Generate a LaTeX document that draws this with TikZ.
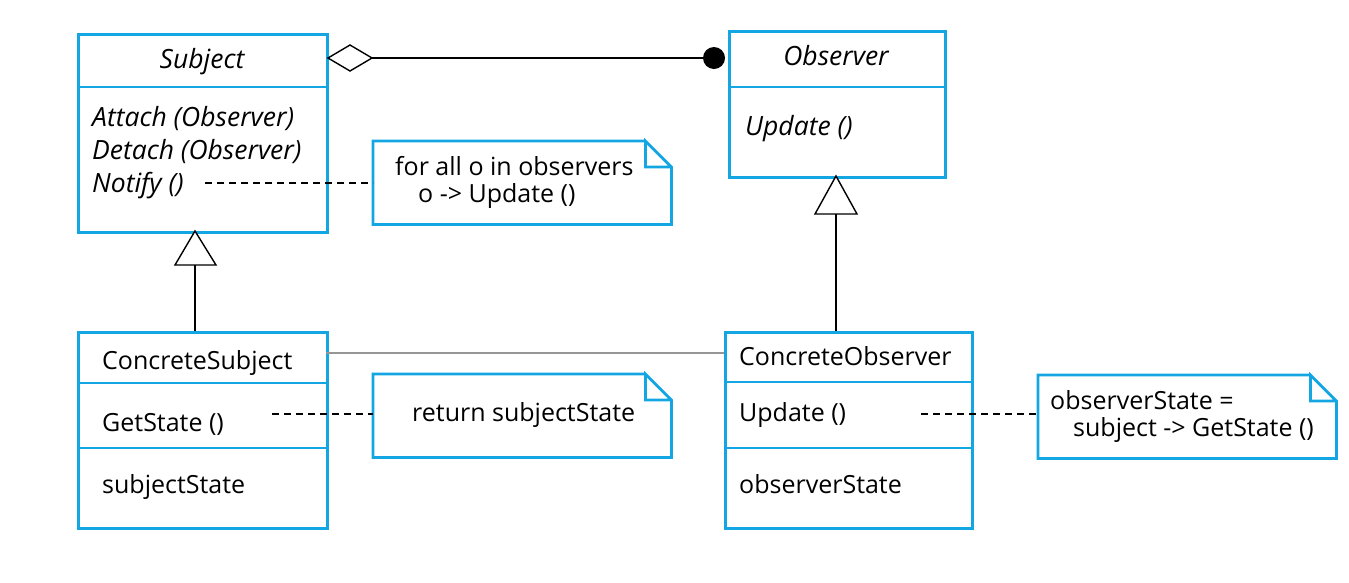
\documentclass[tikz,border=0pt]{standalone}
\usepackage{fontspec}
\setmainfont{Open Sans}
\definecolor{ublue}{RGB}{20,166,226}
\definecolor{assocgray}{RGB}{150,150,150}
\begin{document}
\begin{tikzpicture}[x=1pt,y=-1pt,
  box/.style={draw=ublue,line width=2.8pt,rectangle,inner sep=0pt,anchor=north west},
  divline/.style={draw=ublue,line width=1.3pt},
  txt/.style={inner sep=0pt,anchor=base west,font=\fontsize{25}{30}\selectfont},
  itxt/.style={txt,font=\fontsize{26.5}{30}\selectfont\itshape},
  notebox/.style={draw=none,rectangle,inner sep=0pt,anchor=north west},
  noteline/.style={draw=ublue,line width=2.8pt,line join=miter},
  dashlink/.style={line width=2.2pt,dash pattern=on 7pt off 5pt},
  conn/.style={line width=1.4pt}
]
\useasboundingbox (0,0) rectangle (1349,582);
% Subject
\node[box,minimum width=249pt,minimum height=198pt] (subj) at (77,33) {};
\draw[divline] (77,87) coordinate (sd1) -- (326,87) coordinate (sd2);
\node[itxt,anchor=base] (subjname) at (202,68) {Subject};
\node[itxt] (attach) at (92,126) {Attach (Observer)};
\node[itxt] (detach) at (92,159) {Detach (Observer)};
\node[itxt] (notify) at (92,192) {Notify ()};
% Observer
\node[box,minimum width=216pt,minimum height=146pt] (obs) at (728,30) {};
\draw[divline] (728,87) -- (944,87);
\node[itxt,anchor=base] (obsname) at (836,65) {Observer};
\node[itxt] (obsupd) at (745,135) {Update ()};
% ConcreteSubject
\node[box,minimum width=249pt,minimum height=196pt] (csubj) at (77,331) {};
\draw[divline] (77,383) -- (326,383);
\draw[divline] (77,448) -- (326,448);
\node[txt] (csname) at (102,369) {ConcreteSubject};
\node[txt] (getstate) at (102,431) {GetState ()};
\node[txt] (sstate) at (102,493) {subjectState};
% ConcreteObserver
\node[box,minimum width=247pt,minimum height=196pt] (cobs) at (724,331) {};
\draw[divline] (724,382) -- (971,382);
\draw[divline] (724,448) -- (971,448);
\node[txt] (coname) at (739,365) {ConcreteObserver};
\node[txt] (coupd) at (739,421) {Update ()};
\node[txt] (ostate) at (739,493) {observerState};
% Notes
\node[notebox,minimum width=298pt,minimum height=83pt] (n1) at (373,141) {};
\node[notebox,minimum width=298pt,minimum height=83pt] (n2) at (373,374) {};
\node[notebox,minimum width=298pt,minimum height=83pt] (n3) at (1038,375) {};
\foreach \n in {n1,n2,n3}{
  \draw[noteline] ([xshift=-26pt]\n.north east) -- (\n.north west) -- (\n.south west) -- (\n.south east) -- ([yshift=-26pt]\n.north east) -- ([xshift=-26pt]\n.north east) -- ([xshift=-26pt,yshift=-26pt]\n.north east) -- ([yshift=-26pt]\n.north east);
}
\node[txt] (n1a) at (395,175) {for all o in observers};
\node[txt] (n1b) at (418,202) {o -> Update ()};
\node[txt] (n2a) at (412,421) {return subjectState};
\node[txt] (n3a) at (1050,409) {observerState =};
\node[txt] (n3b) at (1073,436) {subject -> GetState ()};
% aggregation
\coordinate (dl) at (328,58);
\coordinate (dr) at (372,58);
\draw[conn,fill=white] (dl) -- (350,45) -- (dr) -- (350,71) -- cycle;
\coordinate (dot) at (714,58);
\draw[conn] (dr) -- (dot);
\fill (dot) circle (11pt);
% generalization Subject
\coordinate (t1a) at (195,231);
\coordinate (t1b) at (195,265);
\draw[conn,fill=white] (t1a) -- (216,265) -- (175,265) -- cycle;
\draw[conn] (t1b) -- (csubj.north -| t1b);
% generalization Observer
\coordinate (t2a) at (836,176);
\coordinate (t2b) at (836,214);
\draw[conn,fill=white] (t2a) -- (857,214) -- (815,214) -- cycle;
\draw[conn] (t2b) -- (cobs.north -| t2b);
% association
\draw[assocgray,line width=1.3pt] (326,353) -- (724,353);
% dashed note links
\draw[dashlink] (205,183) -- (n1.west |- 0,183);
\draw[dashlink] (272,414) -- (n2.west |- 0,414);
\draw[dashlink] (921,414) -- (n3.west |- 0,414);
\end{tikzpicture}
\end{document}
